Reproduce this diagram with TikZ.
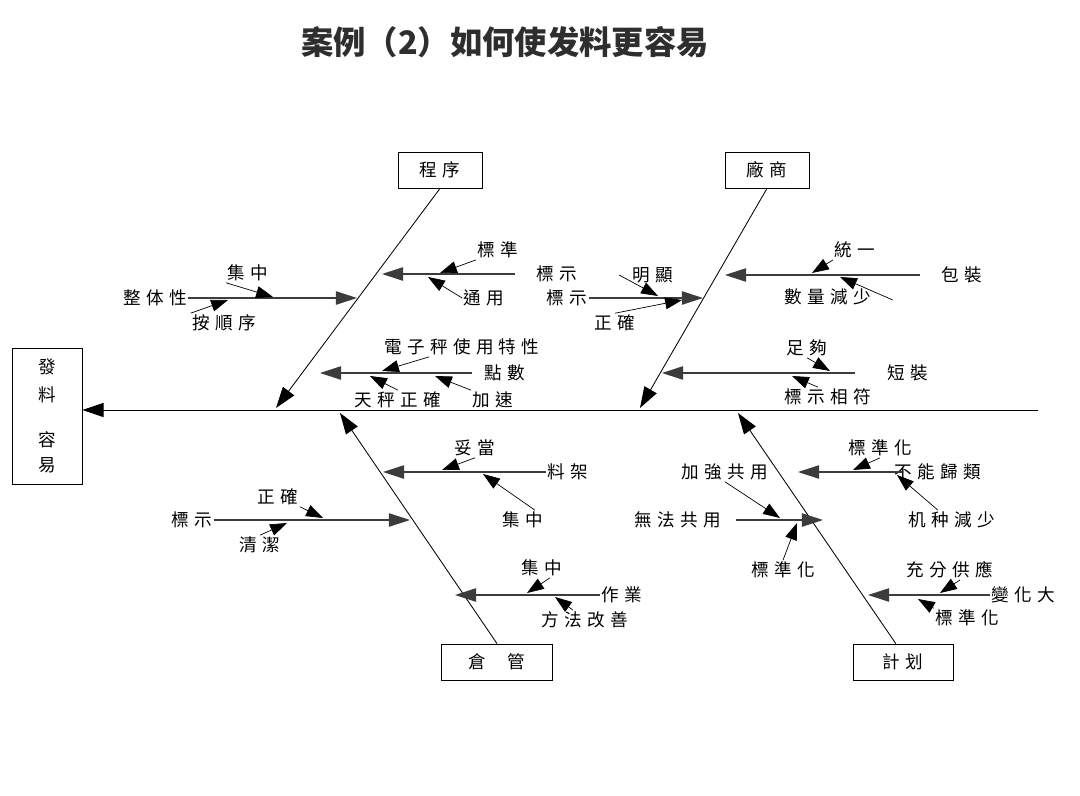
\documentclass[tikz,border=0pt]{standalone}
\usepackage{fontspec}
\usepackage{xcolor}
\usetikzlibrary{arrows.meta,calc}
\newfontfamily\labfont{Noto Sans CJK TC}[LetterSpace=30]
\newfontfamily\titlefont{Noto Sans CJK SC}
\definecolor{lineGray}{HTML}{3c3c3c}
\definecolor{titleGray}{HTML}{2e2e2e}

\begin{document}
\begin{tikzpicture}[x=0.025cm, y=-0.025cm,
    lbl/.style={font=\labfont\fontsize{12.5}{14}\selectfont, inner sep=1pt},
    catbox/.style={lbl, draw, line width=0.6pt, minimum height=0.9cm},
    bone/.style={color=black, line width=0.6pt, -{Triangle[length=15pt,width=10pt]}},
    cause/.style={color=lineGray, line width=0.9pt, -{Triangle[length=15pt,width=9.5pt]}},
    sub/.style={color=black, line width=0.5pt, -{Triangle[length=12pt,width=8.5pt]}}]

    \useasboundingbox (0,0) rectangle (1080,796);

    \node[font=\titlefont\bfseries\fontsize{23}{27}\selectfont, text=titleGray] (title) at (505,42) {案例（2）如何使发料更容易};

    % head and category boxes
    \node[lbl, draw, line width=0.6pt, minimum width=1.75cm, minimum height=3.4cm, align=center] (eff) at (47,416) {發\\[6pt]料\\[18pt]容\\[4pt]易};
    \node[catbox, minimum width=2.1cm] (prog) at (440,170) {程序};
    \node[catbox, minimum width=2.1cm] (vend) at (767,170) {廠商};
    \node[catbox, minimum width=2.78cm] (ware) at (497,662) {倉\hspace{0.55cm}管};
    \node[catbox, minimum width=2.5cm] (plan) at (903,662) {計划};

    % spine and bones
    \coordinate (spineR) at (1038,410);
    \coordinate (progT) at (276,408);
    \coordinate (vendT) at (640,408);
    \coordinate (wareT) at (340,413);
    \coordinate (planT) at (738,413);

    \path[bone]
        (spineR) edge (spineR -| eff.east)
        (prog.south) edge (progT)
        (vend.south) edge (vendT)
        (ware.north) edge (wareT)
        ([xshift=-0.18cm]plan.north) edge (planT)
    ;

    % causes
    \node[lbl] (a0) at (557,274) {標示};
    \node[lbl] (a1) at (498,250) {標準};
    \node[lbl] (a2) at (484,298) {通用};
    \node[lbl] (b0) at (155,298) {整体性};
    \node[lbl] (b1) at (248,273) {集中};
    \node[lbl] (b2) at (224,323) {按順序};
    \node[lbl] (c0) at (505,373) {點數};
    \node[lbl] (c1) at (462,347) {電子秤使用特性};
    \node[lbl] (c2) at (398,400) {天秤正確};
    \node[lbl] (c3) at (493,400) {加速};

    \node[lbl] (d0) at (567,298) {標示};
    \node[lbl] (d1) at (653,275) {明顯};
    \node[lbl] (d2) at (615,323) {正確};
    \node[lbl] (e0) at (962,275) {包裝};
    \node[lbl] (e1) at (855,250) {統一};
    \node[lbl] (e2) at (828,297) {數量減少};
    \node[lbl] (f0) at (908,373) {短裝};
    \node[lbl] (f1) at (807,348) {足夠};
    \node[lbl] (f2) at (828,397) {標示相符};

    \node[lbl] (g0) at (568,472) {料架};
    \node[lbl] (g1) at (475,448) {妥當};
    \node[lbl] (g2) at (523,520) {集中};
    \node[lbl] (h0) at (192,520) {標示};
    \node[lbl] (h1) at (278,497) {正確};
    \node[lbl] (h2) at (260,545) {清潔};
    \node[lbl] (i0) at (622,595) {作業};
    \node[lbl] (i1) at (542,568) {集中};
    \node[lbl] (i2) at (585,620) {方法改善};

    \node[lbl] (j0) at (938,472) {不能歸類};
    \node[lbl] (j1) at (880,448) {標準化};
    \node[lbl] (j2) at (952,520) {机种減少};
    \node[lbl] (k0) at (678,520) {無法共用};
    \node[lbl] (k1) at (725,472) {加強共用};
    \node[lbl] (k2) at (783,570) {標準化};
    \node[lbl] (l0) at (1023,595) {變化大};
    \node[lbl] (l1) at (950,570) {充分供應};
    \node[lbl] (l2) at (967,618) {標準化};

    % tips on the bones
    \coordinate (aT) at (382,274); \coordinate (bT) at (357,298); \coordinate (cT) at (320,373);
    \coordinate (dT) at (703,298); \coordinate (eT) at (725,275); \coordinate (fT) at (662,373);
    \coordinate (gT) at (383,472); \coordinate (hT) at (410,520); \coordinate (iT) at (455,595);
    \coordinate (jT) at (798,472); \coordinate (kT) at (823,520); \coordinate (lT) at (868,595);

    \path[cause]
        ($(a0.west)+(-20,0)$) edge (aT)
        (b0.east) edge (bT)
        ($(c0.west)+(-11,0)$) edge (cT)
        (d0.east) edge (dT)
        ($(e0.west)+(-20,0)$) edge (eT)
        ($(f0.west)+(-31,0)$) edge (fT)
        (g0.west) edge (gT)
        (h0.east) edge (hT)
        (i0.west) edge (iT)
        ($(j0.west)+(9,0)$) edge (jT)
        ($(k0.east)+(13,0)$) edge (kT)
        (l0.west) edge (lT)
    ;

    % tips on the causes
    \coordinate (a1T) at (440,273); \coordinate (a2T) at (428,277);
    \coordinate (b1T) at (273,297); \coordinate (b2T) at (228,300);
    \coordinate (c1T) at (382,371); \coordinate (c2T) at (370,376); \coordinate (c3T) at (435,376);
    \coordinate (d1T) at (658,296); \coordinate (d2T) at (682,300);
    \coordinate (e1T) at (812,273); \coordinate (e2T) at (840,277);
    \coordinate (f1T) at (830,371); \coordinate (f2T) at (792,376);
    \coordinate (g1T) at (442,470); \coordinate (g2T) at (483,474);
    \coordinate (h1T) at (323,518); \coordinate (h2T) at (287,523);
    \coordinate (i1T) at (527,593); \coordinate (i2T) at (555,597);
    \coordinate (j1T) at (853,470); \coordinate (j2T) at (897,475);
    \coordinate (k1T) at (780,518); \coordinate (k2T) at (797,523);
    \coordinate (l1T) at (940,593); \coordinate (l2T) at (918,599);

    \path[sub]
        (a1.south west) edge (a1T)
        (a2.west) edge (a2T)
        (b1.south west) edge (b1T)
        (b2.north west) edge (b2T)
        (c1) edge (c1T)
        (c2.north) edge (c2T)
        (c3.north west) edge (c3T)
        ($(d1.west)+(-12,0)$) edge (d1T)
        (d2.north) edge (d2T)
        (e1.south west) edge (e1T)
        ($(e2.east)+(20,3)$) edge (e2T)
        (f1.south) edge (f1T)
        ($(f2.north)+(-10,0)$) edge (f2T)
        (g1.south) edge (g1T)
        ($(g2.north)+(12,0)$) edge (g2T)
        (h1.south east) edge (h1T)
        (h2.north) edge (h2T)
        ($(i1.south)+(8,0)$) edge (i1T)
        ($(i2.north)+(-12,0)$) edge (i2T)
        (j1.south) edge (j1T)
        ($(j2.north)+(-14,0)$) edge (j2T)
        (k1.south) edge (k1T)
        (k2.north) edge (k2T)
        ($(l1.south)+(10,0)$) edge (l1T)
        (l2.north west) edge (l2T)
    ;
\end{tikzpicture}
\end{document}
